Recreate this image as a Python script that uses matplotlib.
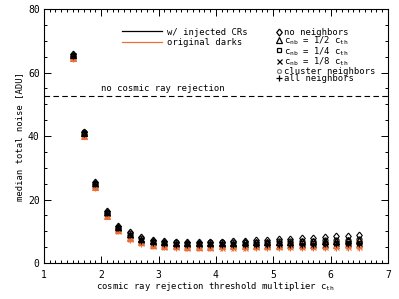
import matplotlib
matplotlib.use("Agg")
import matplotlib.pyplot as plt

plt.rcParams['font.family'] = 'DejaVu Sans Mono'
plt.rcParams['mathtext.fontset'] = 'custom'
plt.rcParams['mathtext.rm'] = 'DejaVu Sans Mono'

# threshold multiplier values
c_th = [1.5, 1.7, 1.9, 2.1, 2.3, 2.5, 2.7, 2.9, 3.1, 3.3, 3.5, 3.7, 3.9,
        4.1, 4.3, 4.5, 4.7, 4.9, 5.1, 5.3, 5.5, 5.7, 5.9, 6.1, 6.3, 6.5]

# w/ injected CRs
inj_none = [65.8, 41.4, 25.4, 16.3, 11.8, 9.7, 8.1, 7.3, 6.9, 6.7, 6.6, 6.6, 6.7,
            6.8, 6.9, 7.0, 7.2, 7.3, 7.5, 7.6, 7.8, 8.0, 8.2, 8.4, 8.6, 8.8]
inj_half = [65.6, 41.1, 25.1, 16.0, 11.3, 9.3, 7.7, 7.0, 6.6, 6.4, 6.3, 6.3, 6.3,
            6.4, 6.4, 6.5, 6.6, 6.6, 6.7, 6.8, 6.9, 7.0, 7.0, 7.1, 7.2, 7.3]
inj_quarter = [65.5, 41.0, 25.0, 15.9, 11.1, 9.0, 7.4, 6.7, 6.3, 6.1, 6.0, 6.0, 6.0,
               6.0, 6.1, 6.1, 6.1, 6.2, 6.2, 6.2, 6.3, 6.3, 6.3, 6.4, 6.4, 6.4]
inj_eighth = [65.4, 40.9, 24.9, 15.8, 11.0, 8.9, 7.3, 6.6, 6.2, 6.0, 5.9, 5.9, 5.9,
              5.9, 5.9, 6.0, 6.0, 6.0, 6.0, 6.1, 6.1, 6.1, 6.1, 6.2, 6.2, 6.2]
inj_cluster = [65.6, 41.2, 25.2, 16.1, 11.4, 9.4, 7.8, 7.1, 6.7, 6.5, 6.4, 6.4, 6.5,
               6.5, 6.6, 6.7, 6.7, 6.8, 6.9, 7.0, 7.1, 7.1, 7.2, 7.3, 7.4, 7.5]
inj_all = [65.3, 40.8, 24.8, 15.7, 10.9, 8.7, 7.1, 6.4, 6.0, 5.8, 5.7, 5.7, 5.7,
           5.7, 5.7, 5.7, 5.8, 5.8, 5.8, 5.8, 5.8, 5.8, 5.9, 5.9, 5.9, 5.9]

# original darks
orig_none = [64.8, 40.3, 24.2, 15.1, 10.6, 8.1, 6.8, 6.1, 5.8, 5.6, 5.5, 5.5, 5.6,
             5.6, 5.7, 5.8, 5.9, 6.0, 6.1, 6.2, 6.3, 6.5, 6.6, 6.8, 7.0, 7.1]
orig_half = [64.6, 40.1, 24.0, 14.9, 10.3, 7.8, 6.5, 5.8, 5.5, 5.3, 5.2, 5.2, 5.2,
             5.3, 5.3, 5.4, 5.4, 5.5, 5.5, 5.6, 5.6, 5.7, 5.8, 5.8, 5.9, 6.0]
orig_quarter = [64.5, 40.0, 23.9, 14.8, 10.2, 7.6, 6.3, 5.6, 5.3, 5.1, 5.0, 5.0, 5.0,
                5.0, 5.0, 5.1, 5.1, 5.1, 5.1, 5.2, 5.2, 5.2, 5.2, 5.3, 5.3, 5.3]
orig_eighth = [64.5, 40.0, 23.9, 14.8, 10.1, 7.5, 6.2, 5.5, 5.2, 5.0, 4.9, 4.9, 4.9,
               4.9, 4.9, 4.9, 5.0, 5.0, 5.0, 5.0, 5.0, 5.0, 5.1, 5.1, 5.1, 5.1]
orig_cluster = [64.6, 40.2, 24.1, 15.0, 10.4, 7.9, 6.6, 5.9, 5.6, 5.4, 5.3, 5.3, 5.4,
                5.4, 5.5, 5.5, 5.6, 5.6, 5.7, 5.8, 5.8, 5.9, 6.0, 6.0, 6.1, 6.2]
orig_all = [64.4, 39.9, 23.8, 14.7, 10.0, 7.4, 6.1, 5.4, 5.1, 4.9, 4.8, 4.8, 4.8,
            4.8, 4.8, 4.8, 4.8, 4.8, 4.8, 4.8, 4.8, 4.8, 4.9, 4.9, 4.9, 4.9]

no_rejection = 52.6

orange = '#e8703a'
diamond = [(0, 1), (0.8, 0), (0, -1), (-0.8, 0), (0, 1)]
markers = [diamond, '^', 's', 'x', 'o', '+']
msizes = [5.0, 4.0, 3.4, 3.6, 3.6, 4.6]
labels = ['no neighbors',
          r'c$_\mathregular{nb}$ = 1/2 c$_\mathregular{th}$',
          r'c$_\mathregular{nb}$ = 1/4 c$_\mathregular{th}$',
          r'c$_\mathregular{nb}$ = 1/8 c$_\mathregular{th}$',
          'cluster neighbors',
          'all neighbors']
inj = [inj_none, inj_half, inj_quarter, inj_eighth, inj_cluster, inj_all]
orig = [orig_none, orig_half, orig_quarter, orig_eighth, orig_cluster, orig_all]

fs = 6.4
fig = plt.figure(figsize=(3.99, 2.99), dpi=100)
ax = fig.add_axes([0.110, 0.120, 0.862, 0.850])

for m, s, ys in zip(markers, msizes, orig):
    ax.plot(c_th, ys, linestyle='none', marker=m, ms=s, mfc='none',
            mec=orange, mew=0.8)
for m, s, ys in zip(markers, msizes, inj):
    ax.plot(c_th, ys, linestyle='none', marker=m, ms=s, mfc='none',
            mec='black', mew=0.8)

ax.axhline(no_rejection, color='black', lw=0.8, dashes=(5, 3))
ax.text(2.0, no_rejection + 0.9, 'no cosmic ray rejection', fontsize=fs,
        ha='left', va='bottom')

ax.set_xlim(1, 7)
ax.set_ylim(0, 80)
ax.set_xticks([1, 2, 3, 4, 5, 6, 7])
ax.set_xticks([v / 10 for v in range(10, 71)], minor=True)
ax.set_yticks([0, 20, 40, 60, 80])
ax.set_yticks(list(range(0, 81, 5)), minor=True)
ax.tick_params(which='both', direction='in', top=True, right=True,
               labelsize=7, width=0.7)
ax.tick_params(which='major', length=5)
ax.tick_params(which='minor', length=2.5)
ax.tick_params(axis='x', pad=5)
ax.tick_params(axis='y', pad=3)
for sp in ax.spines.values():
    sp.set_linewidth(0.8)

ax.set_xlabel(r'cosmic ray rejection threshold multiplier c$_\mathregular{th}$',
              fontsize=fs, labelpad=0)
ax.set_ylabel('median total noise [ADU]', fontsize=fs, labelpad=3)

# legend for data sets (axes-fraction layout)
tr = ax.transAxes
for yk, col, lab in [(0.913, 'black', 'w/ injected CRs'),
                     (0.871, orange, 'original darks')]:
    ax.plot([0.227, 0.343], [yk, yk], color=col, lw=0.9, transform=tr)
    ax.text(0.358, yk, lab, fontsize=fs, transform=tr, ha='left',
            va='center_baseline')

# legend for neighbor schemes: one text block, symbols beside each line
ax.text(0.698, 0.927, '\n'.join(labels), fontsize=fs, transform=tr,
        ha='left', va='top', linespacing=0.78)
rows = [0.911, 0.878, 0.840, 0.797, 0.757, 0.728]
for yk, m, s in zip(rows, markers, msizes):
    col = '0.5' if m == 'o' else 'black'
    ax.plot([0.683], [yk], linestyle='none', marker=m,
            ms=s * (0.8 if m == 'o' else 1.0), mfc='none', mec=col,
            mew=0.9, transform=tr)

fig.savefig('out.png', dpi=100)
